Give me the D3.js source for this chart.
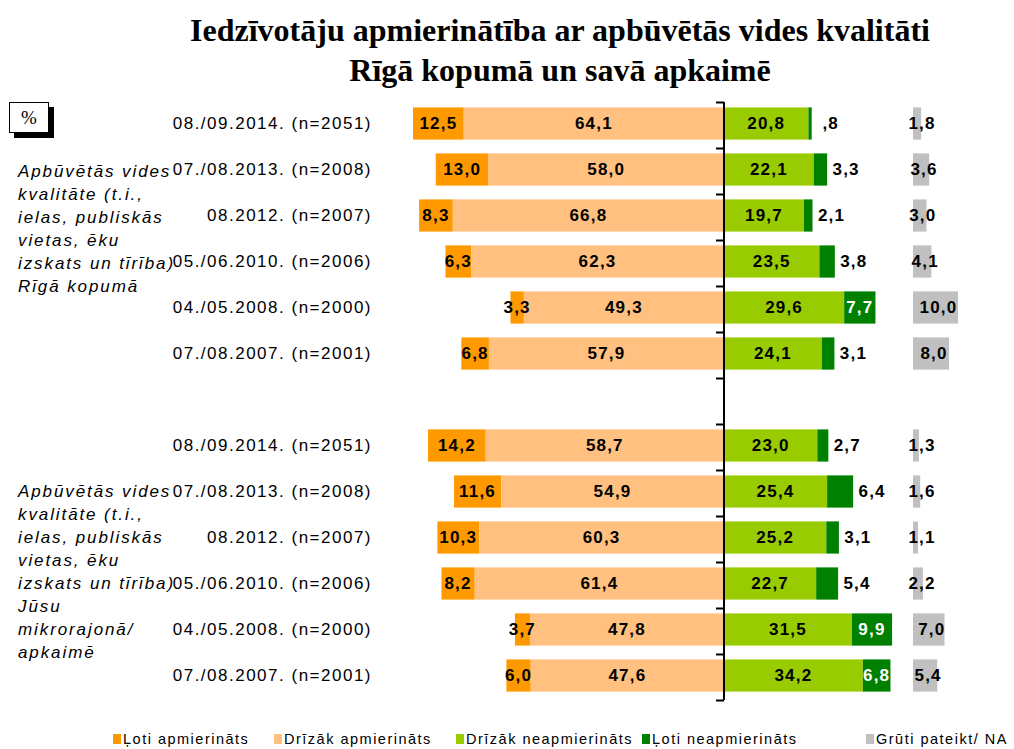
<!DOCTYPE html>
<html><head><meta charset="utf-8">
<script src="https://cdn.jsdelivr.net/npm/d3@7"></script>
<style>body{margin:0;background:#fff}svg{display:block}</style>
</head><body>
<svg id="c" width="1014" height="749"></svg>
<script>
// ---- data ----
const titleLines = ["Iedzīvotāju apmierinātība ar apbūvētās vides kvalitāti", "Rīgā kopumā un savā apkaimē"];
const periods = ["08./09.2014. (n=2051)", "07./08.2013. (n=2008)", "08.2012. (n=2007)", "05./06.2010. (n=2006)", "04./05.2008. (n=2000)", "07./08.2007. (n=2001)"];
const groupLabels = [
  ["Apbūvētās vides", "kvalitāte (t.i.,", "ielas, publiskās", "vietas, ēku", "izskats un tīrība)", "Rīgā kopumā"],
  ["Apbūvētās vides", "kvalitāte (t.i.,", "ielas, publiskās", "vietas, ēku", "izskats un tīrība)", "Jūsu", "mikrorajonā/", "apkaimē"]
];
const seriesNames = ["Ļoti apmierināts", "Drīzāk apmierināts", "Drīzāk neapmierināts", "Ļoti neapmierināts", "Grūti pateikt/ NA"];
const seriesColors = ["#FF9900", "#FFC080", "#99CC00", "#008000", "#C0C0C0"];
// rows: group 1 (Rīgā kopumā) then group 2 (apkaimē)
const lotiApm     = [12.5, 13.0, 8.3, 6.3, 3.3, 6.8,   14.2, 11.6, 10.3, 8.2, 3.7, 6.0];
const drizakApm   = [64.1, 58.0, 66.8, 62.3, 49.3, 57.9, 58.7, 54.9, 60.3, 61.4, 47.8, 47.6];
const drizakNeapm = [20.8, 22.1, 19.7, 23.5, 29.6, 24.1, 23.0, 25.4, 25.2, 22.7, 31.5, 34.2];
const lotiNeapm   = [0.8, 3.3, 2.1, 3.8, 7.7, 3.1,     2.7, 6.4, 3.1, 5.4, 9.9, 6.8];
const gruti       = [1.8, 3.6, 3.0, 4.1, 10.0, 8.0,    1.3, 1.6, 1.1, 2.2, 7.0, 5.4];

// ---- build ----
const svg = d3.select("#c");
const rows = [];
for (let g = 0; g < 2; g++) {
  periods.forEach((p, i) => {
    const k = g * 6 + i;
    rows.push({key: "r" + k, label: p, a: lotiApm[k], b: drizakApm[k], c: drizakNeapm[k], d: lotiNeapm[k], e: gruti[k]});
  });
}
const domain = rows.slice(0, 6).map(r => r.key).concat(["gap"], rows.slice(6).map(r => r.key));

const axisX = 724, k = 4.06;
const x = d3.scaleLinear().domain([-80, 45]).range([axisX - 80 * k, axisX + 45 * k]);
const xg = d3.scaleLinear().domain([0, 10]).range([913, 958]);
const y = d3.scaleBand().domain(domain).range([102, 700]).paddingInner(0.3).paddingOuter(0.15);
const yOff = -1.5;

const fmt = v => {
  let s = d3.format(".1f")(v);
  if (v < 1) s = s.replace(/^0/, "");
  return s.replace(".", ",");
};

// title
svg.append("g").selectAll("text").data(titleLines).join("text")
  .attr("x", 560).attr("y", (d, i) => 41 + i * 40)
  .attr("text-anchor", "middle")
  .style("font-family", "'Liberation Serif','Times New Roman',serif")
  .style("font-weight", "bold").style("font-size", "32px")
  .text(d => d);

// % box
svg.append("rect").attr("x", 14).attr("y", 107).attr("width", 40).attr("height", 31).attr("fill", "#000");
svg.append("rect").attr("x", 9.5).attr("y", 102.5).attr("width", 39).attr("height", 30).attr("fill", "#fff").attr("stroke", "#000");
svg.append("text").attr("x", 29).attr("y", 124).attr("text-anchor", "middle")
  .style("font-family", "'Liberation Serif',serif").style("font-size", "19px").text("%");

// group labels
groupLabels.forEach((lines, g) => {
  const y0 = g === 0 ? 171 : 491;
  svg.append("g").selectAll("text").data(lines).join("text")
    .attr("x", 18).attr("y", (d, i) => y0 + i * 23)
    .attr("dominant-baseline", "central")
    .attr("letter-spacing", "1.9")
    .style("font-family", "'Liberation Sans',Arial,sans-serif")
    .style("font-style", "italic").style("font-size", "17px")
    .text(d => d);
});

// category labels
svg.append("g").selectAll("text").data(rows).join("text")
  .attr("x", 372).attr("y", d => y(d.key) + y.bandwidth() / 2 + yOff)
  .attr("text-anchor", "end").attr("dominant-baseline", "central")
  .attr("letter-spacing", "1.5")
  .style("font-family", "'Liberation Sans',Arial,sans-serif").style("font-size", "17px")
  .text(d => d.label);

// segments
const segs = [];
rows.forEach(r => {
  segs.push({r, s: 0, x0: x(-(r.a + r.b)), x1: x(-r.b), v: r.a});
  segs.push({r, s: 1, x0: x(-r.b), x1: x(0), v: r.b});
  segs.push({r, s: 2, x0: x(0), x1: x(r.c), v: r.c});
  segs.push({r, s: 3, x0: x(r.c), x1: x(r.c + r.d), v: r.d});
  segs.push({r, s: 4, x0: xg(0), x1: xg(r.e), v: r.e});
});
svg.append("g").selectAll("rect").data(segs).join("rect")
  .attr("x", d => d.x0).attr("width", d => d.x1 - d.x0)
  .attr("y", d => y(d.r.key) + yOff).attr("height", y.bandwidth())
  .attr("fill", d => seriesColors[d.s]);

// value labels
svg.append("g").selectAll("text").data(segs).join("text")
  .attr("x", d => {
    const w = d.x1 - d.x0;
    if (d.s === 3 && d.v < 6.5) return d.x1 + 19;
    if (d.s === 4) return d.x0 + Math.max(w / 2 + 3, 9);
    return (d.x0 + d.x1) / 2;
  })
  .attr("y", d => y(d.r.key) + y.bandwidth() / 2 + yOff)
  .attr("text-anchor", "middle").attr("dominant-baseline", "central")
  .attr("letter-spacing", "1.2")
  .attr("fill", d => (d.s === 3 && d.v >= 6.5) ? "#fff" : "#000")
  .style("font-family", "'Liberation Sans',Arial,sans-serif")
  .style("font-weight", "bold").style("font-size", "17px")
  .text(d => fmt(d.v));

// central axis with ticks at band boundaries
const yt = d3.scaleLinear().domain([0, domain.length]).range([102, 700]);
const ax = svg.append("g").attr("transform", `translate(${axisX},0)`)
  .call(d3.axisLeft(yt).tickValues(d3.range(domain.length + 1)).tickSize(8).tickFormat(""));
ax.selectAll("line").attr("stroke", "#000").attr("stroke-width", 2);
ax.select(".domain").attr("stroke", "#000").attr("stroke-width", 2).attr("d", "M0,102V700");

// legend
const legX = [113, 274, 456, 642, 866];
const leg = svg.append("g").selectAll("g").data(seriesNames).join("g")
  .attr("transform", (d, i) => `translate(${legX[i]},739)`);
leg.append("rect").attr("x", 0).attr("y", -5).attr("width", 8).attr("height", 10)
  .attr("fill", (d, i) => seriesColors[i]);
leg.append("text").attr("x", 10).attr("y", 0).attr("dominant-baseline", "central")
  .attr("letter-spacing", "1.5")
  .style("font-family", "'Liberation Sans',Arial,sans-serif").style("font-size", "14.5px")
  .text(d => d);
</script>
</body></html>
